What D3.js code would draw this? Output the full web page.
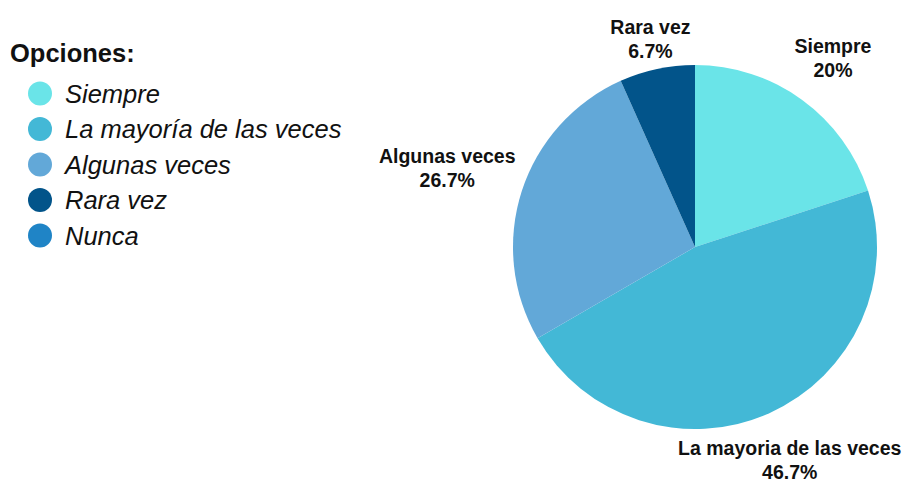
<!DOCTYPE html>
<html>
<head>
<meta charset="utf-8">
<script src="https://cdn.jsdelivr.net/npm/d3@7"></script>
<style>
  body { margin: 0; background: #fff; }
  svg { display: block; font-family: "Liberation Sans", Arial, sans-serif; }
</style>
</head>
<body>
<svg id="chart" width="903" height="483"></svg>
<script>
// Data
const categories = ['Siempre', 'La mayoría de las veces', 'Algunas veces', 'Rara vez', 'Nunca'];
const sliceLabels = ['Siempre', 'La mayoria de las veces', 'Algunas veces', 'Rara vez', 'Nunca'];
const values = [20, 46.7, 26.7, 6.7, 0];
const colorList = ['#6ae4e8', '#43b8d6', '#62a8d8', '#02548a', '#1f84c6'];
const legendTitle = 'Opciones:';

const svg = d3.select('#chart');
const cx = 695, cy = 247, radius = 182;

const color = d3.scaleOrdinal().domain(categories).range(colorList);

// Pie
const pie = d3.pie().sort(null).value(d => d.value);
const arcs = pie(categories.map((c, i) => ({ name: c, label: sliceLabels[i], value: values[i] })));
const arc = d3.arc().innerRadius(0).outerRadius(radius);

const g = svg.append('g').attr('transform', `translate(${cx},${cy})`);

g.selectAll('path')
    .data(arcs.filter(d => d.value > 0))
    .join('path')
    .attr('d', arc)
    .attr('fill', d => color(d.data.name));

// Slice labels, placed outside the pie along the mid angle
const fontSize = 19.5, lineGap = 24;
const labelG = g.append('g');
arcs.filter(d => d.value > 0).forEach(d => {
    const a = (d.startAngle + d.endAngle) / 2;
    const t = labelG.append('text')
        .attr('text-anchor', 'middle')
        .style('font-size', fontSize + 'px')
        .style('font-weight', 'bold')
        .style('fill', '#111');
    t.append('tspan').attr('x', 0).attr('dy', 0).text(d.data.label);
    t.append('tspan').attr('x', 0).attr('dy', lineGap).text(d3.format('.3~r')(d.value) + '%');
    const bb = t.node().getBBox();
    const w = bb.width, h = 42;
    const s = Math.sin(a), c = Math.cos(a);
    const ext = Math.min(Math.abs(s) > 1e-6 ? (w / 2) / Math.abs(s) : Infinity,
                         Math.abs(c) > 1e-6 ? (h / 2) / Math.abs(c) : Infinity);
    const pad = s > 0 ? 27 : 10;
    const dist = radius + pad + ext;
    const x = dist * s, y = -dist * c;
    // box vertical: top = baseline1 - 14, bottom = baseline2 + 4
    const baseline1 = y - h / 2 + 17;
    t.attr('transform', `translate(${x},${baseline1})`);
});

// Legend
const legend = svg.append('g');
legend.append('text')
    .attr('x', 10)
    .attr('y', 61.5)
    .style('font-size', '25.5px')
    .style('font-weight', 'bold')
    .style('fill', '#111')
    .text(legendTitle);

const legendY = d3.scalePoint().domain(categories).range([93.5, 235.5]);

const items = legend.selectAll('.legend-item')
    .data(categories)
    .join('g')
    .attr('class', 'legend-item')
    .attr('transform', d => `translate(0,${legendY(d)})`);

items.append('circle')
    .attr('cx', 40)
    .attr('cy', 0)
    .attr('r', 12)
    .attr('fill', d => color(d));

items.append('text')
    .attr('x', 65)
    .attr('y', 9)
    .style('font-size', '25.5px')
    .style('font-style', 'italic')
    .style('fill', '#111')
    .text(d => d);
</script>
</body>
</html>
